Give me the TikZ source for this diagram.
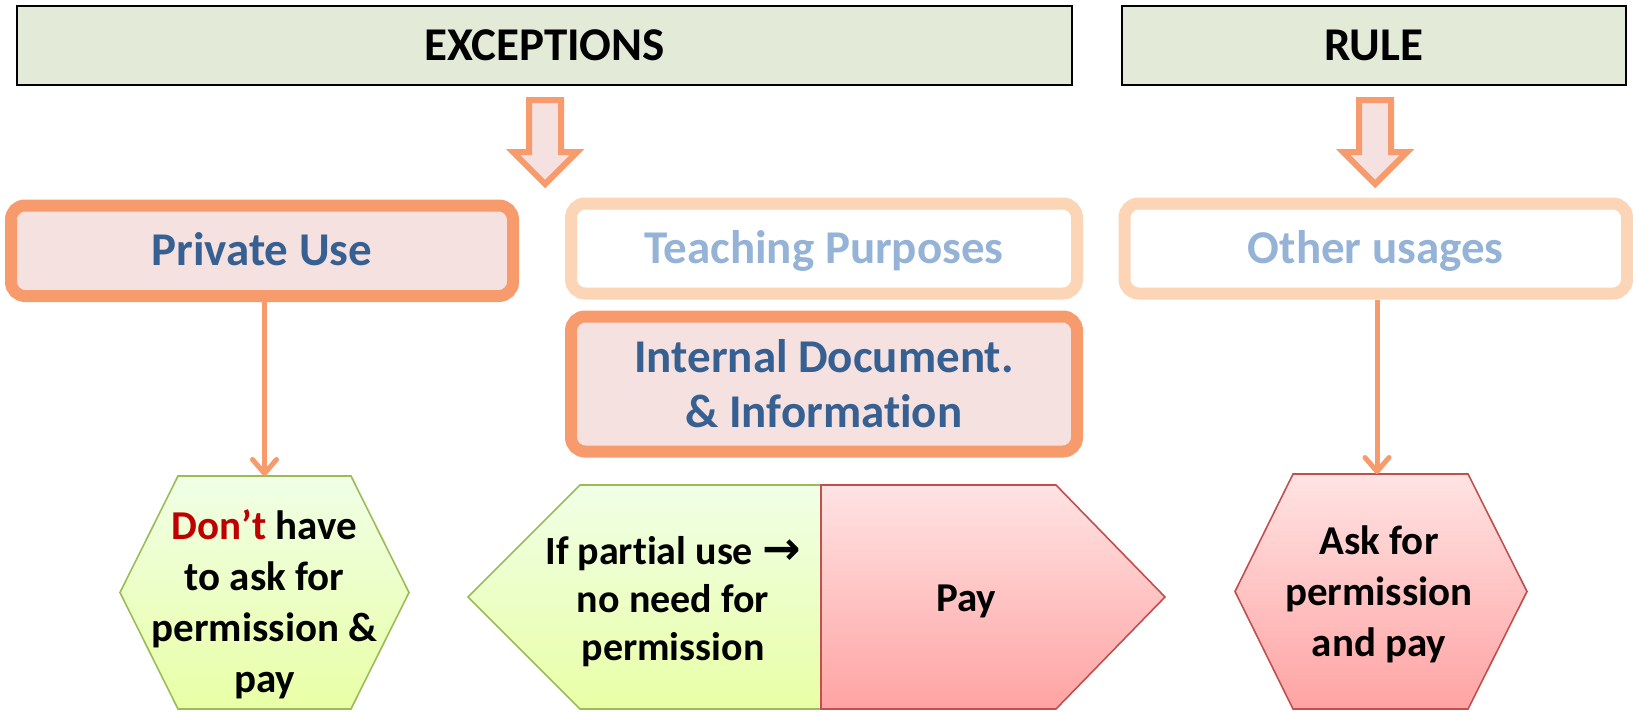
\documentclass[tikz,border=0pt]{standalone}
\usepackage{fontspec}
\setmainfont{Carlito}[Ligatures=NoCommon]
\newfontfamily\arrowfont{DejaVu Sans}
\usepackage{xcolor}
\usetikzlibrary{arrows.meta, positioning, calc}

\definecolor{headgreen}{HTML}{E3EAD7}
\definecolor{boxorange}{HTML}{F79A6C}
\definecolor{boxpink}{HTML}{F4E1E0}
\definecolor{boxpeach}{HTML}{FBD5B5}
\definecolor{textblue}{HTML}{376092}
\definecolor{paleblue}{HTML}{95B3D7}
\definecolor{hexgreen}{HTML}{9BBB59}
\definecolor{hexred}{HTML}{C0504D}
\definecolor{dontred}{HTML}{C00000}

\tikzset{
  titlefont/.style={font=\fontsize{23.5}{28}\selectfont\bfseries},
  headbox/.style={draw=black, line width=1pt, fill=headgreen, minimum height=39.5pt,
    titlefont, text height=15pt, text depth=0pt},
  usebox/.style={draw=boxorange, line width=6pt, fill=boxpink, rounded corners=7pt,
    text=textblue, titlefont, align=center},
  idlebox/.style={draw=boxpeach, line width=6pt, fill=white, rounded corners=7pt,
    text=paleblue, titlefont},
  blockarrow/.style={draw=boxorange, line width=3pt, fill=boxpink},
  conn/.style={draw=boxorange, line width=2.5pt, -{Straight Barb[length=7pt,width=12pt,round]}},
  greenhex/.style={draw=hexgreen, line width=0.8pt, top color=green!5!white!95!lime, bottom color=lime!35!white},
  redhex/.style={draw=hexred, line width=0.8pt, top color=red!11, bottom color=red!36},
  hextext/.style={font=\fontsize{20.5}{25.5}\selectfont\bfseries, align=center},
}

\begin{document}
\begin{tikzpicture}[x=0.5pt, y=-0.5pt]
    \useasboundingbox (0,0) rectangle (1633,712);

    % headers
    \node[headbox, minimum width=527.5pt] (exceptions) at (544.5,45.5) {EXCEPTIONS};
    \node[headbox, minimum width=252pt] (rule) at (1374,45.5) {RULE};

    % block arrows
    \foreach \cx in {545,1375}
    \draw[blockarrow] (\cx-16,100) -- (\cx+16,100) -- (\cx+16,152) -- (\cx+32,152)
      -- (\cx,184) -- (\cx-32,152) -- (\cx-16,152) -- cycle;

    % usages
    \node[usebox, minimum width=251pt, minimum height=45.25pt, text height=15pt, text depth=0pt]
      (private) at (262,250.75) {Private Use};
    \node[idlebox, minimum width=253pt, minimum height=45pt, text height=15pt, text depth=0pt]
      (teaching) at (824,248.5) {Teaching Purposes};
    \node[usebox, minimum width=253pt, minimum height=67.5pt, font=\fontsize{23.5}{27.5}\selectfont\bfseries]
      (internal) at (824,384) {Internal Document.\\\& Information};
    \node[idlebox, minimum width=251.25pt, minimum height=45pt, text height=15pt, text depth=0pt]
      (other) at (1375.75,248.5) {Other usages};

    % consequences
    \draw[greenhex] (120,592.5) -- (178,476) -- (351,476) -- (409,592.5) -- (351,709) -- (178,709) -- cycle;
    \draw[greenhex] (468,597) -- (580,485) -- (821,485) -- (821,709) -- (580,709) -- cycle;
    \draw[redhex] (821,485) -- (1056,485) -- (1165,597) -- (1056,709) -- (821,709) -- cycle;
    \draw[redhex] (1235,591.5) -- (1293,474) -- (1468,474) -- (1527,591.5) -- (1468,709) -- (1293,709) -- cycle;

    \coordinate (freetop) at (264.5,476);
    \coordinate (asktop) at (1377,474);

    \node[hextext] (free) at (264.5,604)
      {\textcolor{dontred}{Don’t} have\\to ask for\\permission \&\\pay};
    \node[hextext, font=\fontsize{20}{24}\selectfont\bfseries] (partial) at (673,602)
      {If partial use {\arrowfont\bfseries\fontsize{23}{24}\selectfont →}\\no need for\\permission};
    \node[hextext] (pay) at (966,601) {Pay};
    \node[hextext] (ask) at (1379,594) {Ask for\\permission\\and pay};

    % connectors
    \draw[conn] (private.south -| freetop) -- (freetop);
    \draw[conn] (other.south -| asktop) -- (asktop);
\end{tikzpicture}
\end{document}
